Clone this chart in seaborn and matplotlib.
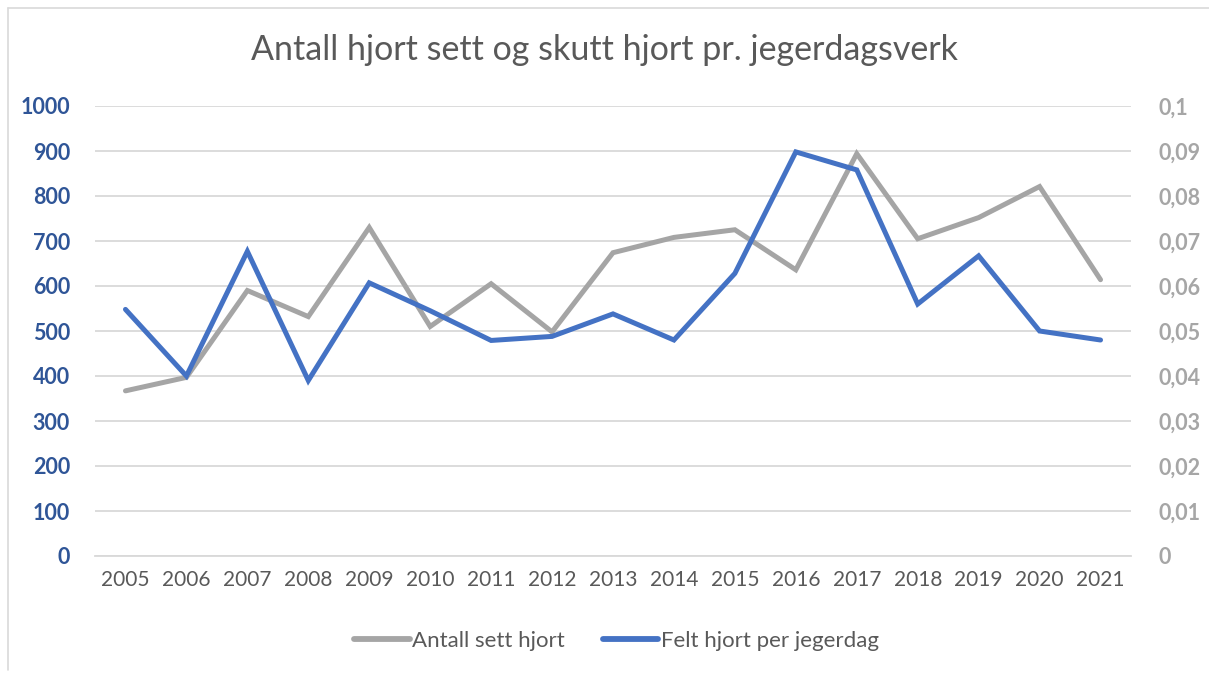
import numpy as np
import pandas as pd
import seaborn as sns
import matplotlib.pyplot as plt
from matplotlib.lines import Line2D

# data
years = [2005, 2006, 2007, 2008, 2009, 2010, 2011, 2012, 2013,
         2014, 2015, 2016, 2017, 2018, 2019, 2020, 2021]
sett_hjort = [367, 397, 590, 532, 730, 510, 605, 498, 674,
              708, 725, 636, 894, 705, 752, 821, 614]
felt_per_dag = [0.0548, 0.040, 0.0677, 0.039, 0.0607, 0.0545, 0.0479, 0.0488, 0.0538,
                0.048, 0.0628, 0.0898, 0.0858, 0.056, 0.0667, 0.050, 0.048]
right_labels = ['0', '0,01', '0,02', '0,03', '0,04', '0,05',
                '0,06', '0,07', '0,08', '0,09', '0,1']

df = pd.DataFrame({'year': [str(y) for y in years],
                   'sett': sett_hjort,
                   'felt': felt_per_dag})
df['pos'] = np.arange(len(df))

sns.set_theme(style='white')
plt.rcParams['font.family'] = ['Lato', 'DejaVu Sans']

grey = '#A5A5A5'
blue = '#4472C4'

fig = plt.figure(figsize=(12.09, 6.75), dpi=100)
ax = fig.add_axes([95 / 1209, 1 - 556 / 675, (1131 - 95) / 1209, (556 - 106) / 675])
ax2 = ax.twinx()

sns.lineplot(data=df, x='pos', y='sett', ax=ax, color=grey, linewidth=3.6,
             solid_capstyle='round', solid_joinstyle='miter', zorder=3)
sns.lineplot(data=df, x='pos', y='felt', ax=ax2, color=blue, linewidth=3.6,
             solid_capstyle='round', solid_joinstyle='miter', zorder=3)

ax.set_xlim(-0.5, len(df) - 0.5)
ax.set_ylim(0, 1000)
ax2.set_ylim(0, 0.1)
ax.set_yticks(np.arange(0, 1001, 100))
ax2.set_yticks(np.linspace(0, 0.1, 11))
ax2.set_yticklabels(right_labels)
ax.set_xticks(df['pos'])
ax.set_xticklabels(df['year'])

ax.grid(axis='y', color='#D9D9D9', linewidth=1.3)
ax.set_axisbelow(True)
for a in (ax, ax2):
    for s in a.spines.values():
        s.set_visible(False)
    a.set_xlabel('')
    a.set_ylabel('')
ax.spines['bottom'].set_visible(True)
ax.spines['bottom'].set_color('#D9D9D9')
ax.spines['bottom'].set_linewidth(1.3)

ax.tick_params(axis='y', length=0, pad=18, labelsize=15.5, labelcolor='#2F5597')
ax.tick_params(axis='x', length=0, pad=10, labelsize=15, labelcolor='#595959')
ax2.tick_params(axis='y', length=0, pad=20, labelsize=15.5, labelcolor='#A6A6A6')
for t in ax.get_yticklabels() + ax2.get_yticklabels():
    t.set_fontweight('bold')

fig.text(0.5, 1 - 50 / 675, 'Antall hjort sett og skutt hjort pr. jegerdagsverk',
         ha='center', va='center', fontsize=24.5, color='#595959')

handles = [Line2D([], [], color=grey, linewidth=4.2, solid_capstyle='round'),
           Line2D([], [], color=blue, linewidth=4.2, solid_capstyle='round')]
fig.legend(handles, ['Antall sett hjort', 'Felt hjort per jegerdag'],
           loc='center', bbox_to_anchor=(0.5 + 12 / 1209, 1 - 641 / 675), ncol=2,
           frameon=False, fontsize=16, labelcolor='#595959', handlelength=2.5,
           handletextpad=0.1, columnspacing=1.7)

# thin chart border on left and top
fig.add_artist(Line2D([8 / 1209, 8 / 1209], [1 - 670 / 675, 1 - 8 / 675],
                      color='#D9D9D9', linewidth=1.2, transform=fig.transFigure))
fig.add_artist(Line2D([8 / 1209, 1], [1 - 8 / 675, 1 - 8 / 675],
                      color='#D9D9D9', linewidth=1.2, transform=fig.transFigure))

fig.savefig('out.png', dpi=100)
